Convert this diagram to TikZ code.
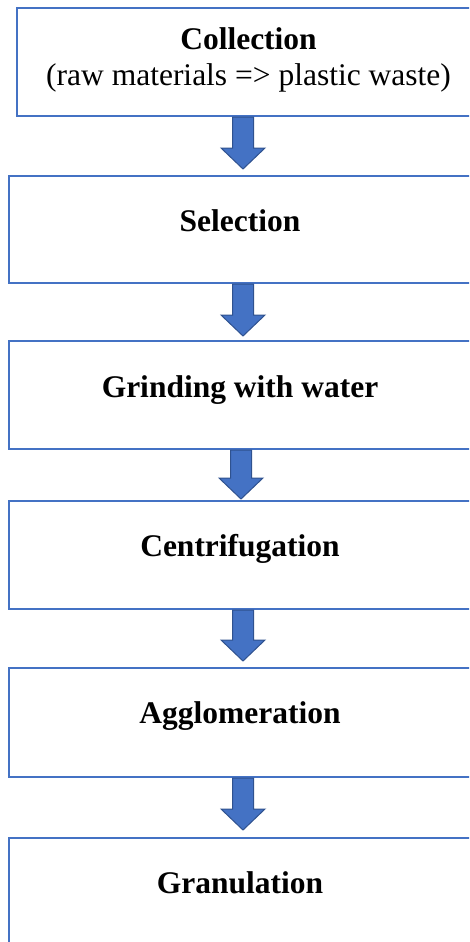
\documentclass[tikz,border=0pt]{standalone}
\usepackage{fontspec}
\setmainfont{Liberation Serif}
\usetikzlibrary{calc}
\definecolor{boxblue}{HTML}{4472C4}
\definecolor{arrowedge}{HTML}{2F528F}
\tikzset{
  box/.style={draw=boxblue, line width=2pt, fill=white, rectangle, inner sep=0pt},
  lbl/.style={font=\fontsize{31.5}{36}\selectfont\bfseries, anchor=base, inner sep=0pt},
  sublbl/.style={font=\fontsize{31.5}{36}\selectfont, anchor=base, inner sep=0pt},
  blockarrow/.style={fill=boxblue, draw=arrowedge, line width=1pt, line join=miter,
    to path={let \p1=(\tikztostart), \p2=(\tikztotarget) in
      (\x1-10.5pt,\y1) -- (\x1-10.5pt,\y2+21pt) -- (\x1-22pt,\y2+21pt) -- (\x2,\y2)
      -- (\x1+22pt,\y2+21pt) -- (\x1+10.5pt,\y2+21pt) -- (\x1+10.5pt,\y1) -- cycle}}
}
\begin{document}
\begin{tikzpicture}[x=1pt,y=-1pt]
\useasboundingbox (0,0) rectangle (469,942);
\clip (0,0) rectangle (469,942);
% boxes
\node[box, minimum width=463pt, minimum height=108pt] (b1) at (248.5,62) {};
\node[box, minimum width=462pt, minimum height=107pt] (b2) at (240,229.5) {};
\node[box, minimum width=462pt, minimum height=108pt] (b3) at (240,395) {};
\node[box, minimum width=462pt, minimum height=108pt] (b4) at (240,555) {};
\node[box, minimum width=462pt, minimum height=109pt] (b5) at (240,722.5) {};
\node[box, minimum width=462pt, minimum height=130pt] (b6) at (240,903) {};
% labels
\node[lbl] (t1) at (248.5,49) {Collection};
\node[sublbl] (t1b) at (248.5,85) {(raw materials => plastic waste)};
\node[lbl] (t2) at ($(b2.north)+(0,56)$) {Selection};
\node[lbl] (t3) at ($(b3.north)+(0,57)$) {Grinding with water};
\node[lbl] (t4) at ($(b4.north)+(0,56)$) {Centrifugation};
\node[lbl] (t5) at ($(b5.north)+(0,56)$) {Agglomeration};
\node[lbl] (t6) at ($(b6.north)+(0,56)$) {Granulation};
% arrow tips
\coordinate (e1) at (243,169);
\coordinate (e2) at (243,336);
\coordinate (e3) at (241,499);
\coordinate (e4) at (243,661);
\coordinate (e5) at (243,830);
\draw[blockarrow] (b1.south -| e1) to (e1);
\draw[blockarrow] (b2.south -| e2) to (e2);
\draw[blockarrow] (b3.south -| e3) to (e3);
\draw[blockarrow] (b4.south -| e4) to (e4);
\draw[blockarrow] (b5.south -| e5) to (e5);
\end{tikzpicture}
\end{document}
